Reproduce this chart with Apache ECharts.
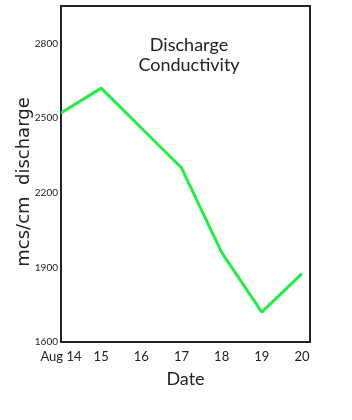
<!DOCTYPE html>
<html>
<head>
<meta charset="utf-8">
<script src="https://cdn.jsdelivr.net/npm/echarts@6/dist/echarts.min.js"></script>
<style>
  html, body { margin: 0; padding: 0; background: #fff; }
  #chart { width: 352px; height: 420px; }
</style>
</head>
<body>
<div id="chart"></div>
<script>
// 数据
var days = [14, 15, 16, 17, 18, 19, 20];
var conductivity = [2520, 2620, 2460, 2300, 1960, 1720, 1875];
var yLabels = [1600, 1900, 2200, 2500, 2800];

var chart = echarts.init(document.getElementById('chart'));
var font = 'Lato, "DejaVu Sans", sans-serif';
var wideFont = '"DejaVu Sans", sans-serif';

var option = {
    animation: false,
    grid: {
        left: 61, top: 6, right: 42, bottom: 78,
        show: true,
        borderColor: '#222',
        borderWidth: 2
    },
    title: {
        text: 'Discharge\nConductivity',
        left: 184, top: 30, textAlign: 'center',
        textStyle: { fontFamily: font, fontSize: 18, fontWeight: 'normal', color: '#222', lineHeight: 20 }
    },
    xAxis: {
        type: 'value',
        min: 14, max: 20.2, interval: 1,
        name: 'Date', nameLocation: 'middle', nameGap: 28,
        nameTextStyle: { fontFamily: font, fontSize: 18, color: '#222' },
        axisLine: { show: false },
        axisTick: { show: false },
        splitLine: { show: false },
        axisLabel: {
            showMaxLabel: false,
            margin: 8,
            fontFamily: font, fontSize: 13, color: '#222',
            formatter: function (v) { return v === 14 ? 'Aug 14' : String(v); }
        }
    },
    yAxis: {
        type: 'value',
        min: 1600, max: 2950, interval: 50,
        name: 'mcs/cm  discharge', nameLocation: 'middle', nameGap: 28,
        nameMoveOverlap: false,
        nameTextStyle: { fontFamily: wideFont, fontSize: 18, color: '#222', padding: [0, 16, 0, 0] },
        axisLine: { show: false },
        axisTick: { show: false },
        splitLine: { show: false },
        axisLabel: {
            margin: 3,
            fontFamily: font, fontSize: 10, color: '#222',
            formatter: function (v) { return yLabels.indexOf(v) >= 0 ? String(v) : ''; }
        }
    },
    series: [{
        type: 'line',
        data: days.map(function (d, i) { return [d, conductivity[i]]; }),
        symbol: 'none',
        lineStyle: { color: '#22ee44', width: 3 }
    }]
};

chart.setOption(option);
</script>
</body>
</html>
